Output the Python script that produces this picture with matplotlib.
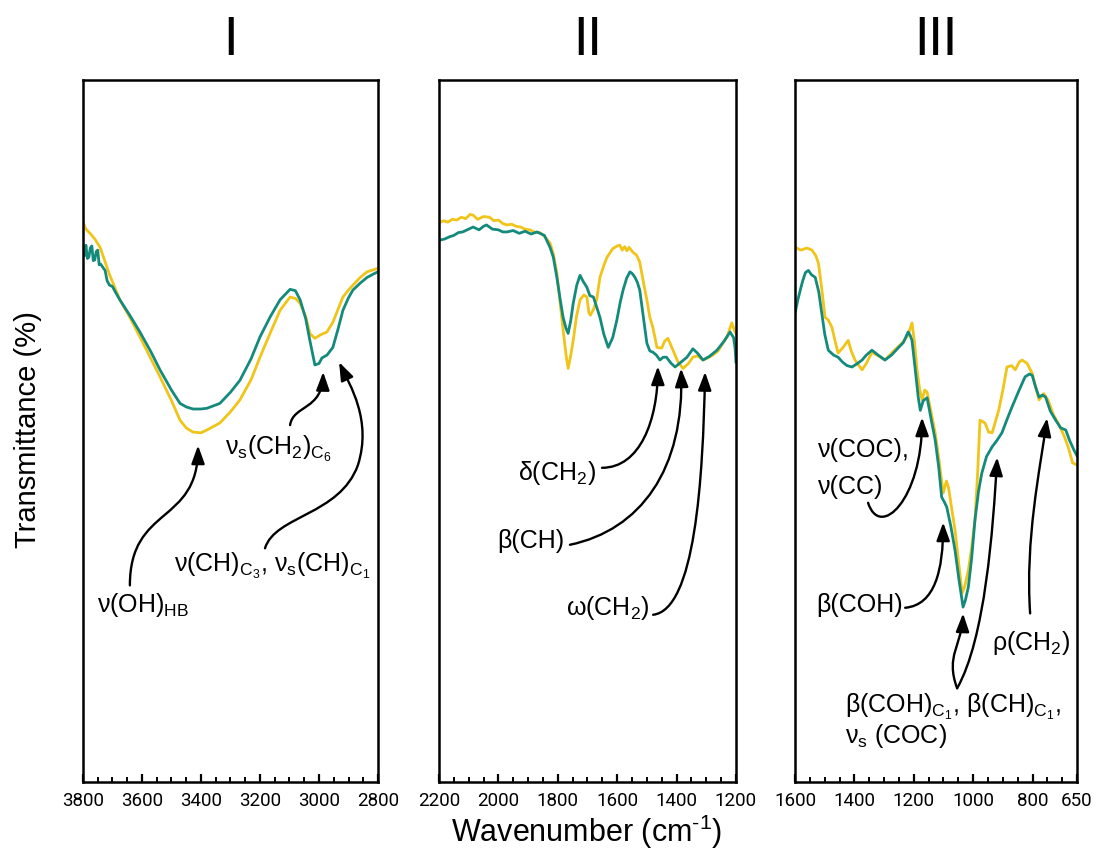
import numpy as np
import matplotlib
matplotlib.use("Agg")
import matplotlib.pyplot as plt
from matplotlib.path import Path
from matplotlib.patches import FancyArrowPatch
from matplotlib.ticker import MultipleLocator

plt.rcParams['font.family'] = ['Liberation Sans', 'DejaVu Sans']
plt.rcParams['mathtext.default'] = 'regular'

YELLOW = '#F0C419'
TEAL = '#148A7C'

# ---- region I : 3800-2800 cm-1 ----
wn1_yellow = [3800, 3790, 3776, 3760, 3742, 3710, 3675, 3640, 3607, 3570, 3539, 3500, 3471, 3450,
              3427, 3400, 3380, 3336, 3300, 3268, 3230, 3200, 3165, 3132, 3098, 3080, 3064, 3045,
              3031, 3014, 2995, 2973, 2953, 2935, 2919, 2900, 2885, 2860, 2837, 2815, 2800]
t1_yellow = [80.0, 79.0, 78.4, 77.6, 76.4, 72.5, 68.9, 66.3, 63.6, 60.5, 57.9, 54.5, 51.7, 50.6,
             50.0, 49.9, 50.3, 51.3, 52.9, 54.6, 57.5, 60.7, 64.2, 67.4, 69.3, 69.1, 68.4, 66.5,
             64.1, 63.4, 63.9, 64.3, 65.7, 67.6, 69.3, 70.3, 71.0, 72.1, 72.9, 73.2, 73.4]

wn1_teal = [3800, 3795, 3790, 3785, 3780, 3775, 3770, 3765, 3760, 3755, 3750, 3745, 3740, 3732,
            3725, 3718, 3710, 3700, 3690, 3675, 3640, 3607, 3570, 3539, 3500, 3471, 3450, 3427,
            3400, 3380, 3336, 3300, 3268, 3230, 3200, 3165, 3132, 3098, 3080, 3064, 3045, 3031,
            3014, 3000, 2990, 2973, 2953, 2935, 2919, 2900, 2885, 2860, 2837, 2815, 2800]
t1_teal = [76.0, 75.2, 76.7, 74.8, 75.0, 76.3, 76.6, 74.5, 74.6, 75.8, 76.0, 73.9, 74.0, 73.5,
           73.1, 71.6, 71.0, 70.8, 70.0, 68.9, 66.6, 64.3, 61.5, 58.9, 56.0, 54.1, 53.6, 53.3,
           53.3, 53.4, 54.1, 55.7, 57.4, 60.5, 63.6, 66.5, 68.9, 70.4, 70.2, 68.9, 66.2, 63.1,
           59.6, 59.8, 60.6, 61.0, 62.1, 64.8, 67.4, 69.2, 70.3, 71.3, 72.1, 72.6, 72.9]

# ---- region II : 2200-1200 cm-1 ----
wn2_yellow = [2200, 2185, 2170, 2155, 2140, 2125, 2110, 2095, 2085, 2070, 2050, 2030, 2015, 2000,
              1985, 1971, 1955, 1940, 1925, 1910, 1894, 1875, 1860, 1845, 1826, 1815, 1803, 1792,
              1782, 1772, 1765, 1757, 1748, 1737, 1725, 1712, 1702, 1695, 1690, 1680, 1669, 1658,
              1645, 1634, 1615, 1600, 1591, 1583, 1575, 1567, 1560, 1547, 1535, 1524, 1512, 1500,
              1490, 1480, 1466, 1450, 1440, 1429, 1420, 1412, 1395, 1378, 1360, 1345, 1330, 1311,
              1295, 1278, 1260, 1244, 1230, 1214, 1205, 1200]
t2_yellow = [79.9, 80.2, 80.0, 80.4, 80.3, 80.7, 80.5, 81.1, 81.0, 80.4, 80.8, 80.7, 80.2, 80.3,
             79.8, 79.6, 79.7, 79.4, 79.3, 79.0, 78.9, 78.5, 78.5, 78.0, 77.0, 75.5, 72.7, 68.5,
             64.6, 61.0, 59.1, 60.8, 63.1, 66.5, 68.9, 69.6, 69.3, 67.0, 66.7, 67.5, 68.9, 72.1,
             73.8, 75.0, 76.2, 76.6, 76.7, 76.0, 76.5, 75.9, 76.4, 75.7, 75.3, 74.3, 71.5, 68.9,
             66.4, 65.0, 62.1, 62.0, 63.0, 63.4, 62.5, 61.7, 60.0, 59.1, 59.8, 60.7, 60.9, 60.3,
             60.6, 61.0, 61.6, 62.7, 63.6, 65.6, 64.5, 64.1]

wn2_teal = [2200, 2180, 2165, 2150, 2135, 2120, 2100, 2085, 2065, 2050, 2040, 2020, 2000, 1985,
            1971, 1950, 1930, 1910, 1890, 1870, 1860, 1845, 1826, 1815, 1803, 1792, 1782, 1772,
            1765, 1756, 1748, 1736, 1725, 1714, 1702, 1692, 1680, 1670, 1658, 1645, 1630, 1615,
            1601, 1590, 1580, 1568, 1557, 1548, 1540, 1532, 1524, 1512, 1500, 1490, 1479, 1468,
            1456, 1445, 1434, 1420, 1405, 1385, 1365, 1345, 1330, 1311, 1290, 1264, 1240, 1220,
            1208, 1203, 1200]
t2_teal = [77.4, 77.6, 77.9, 78.1, 78.5, 78.6, 79.0, 79.3, 78.9, 79.4, 79.6, 79.0, 78.9, 78.6,
           78.6, 78.8, 78.4, 78.7, 78.3, 78.6, 78.4, 78.1, 76.4, 75.0, 72.1, 69.0, 66.4, 64.8,
           64.1, 66.0, 68.4, 71.0, 72.4, 71.5, 70.7, 69.5, 69.3, 68.0, 66.4, 64.0, 62.1, 63.5,
           66.0, 68.5, 70.3, 72.0, 72.9, 72.6, 72.1, 71.4, 70.3, 66.5, 62.7, 61.6, 61.4, 61.0,
           60.3, 60.7, 60.7, 59.9, 59.3, 60.0, 60.7, 61.9, 61.3, 60.3, 60.8, 61.7, 63.0, 64.3,
           63.5, 62.0, 60.0]

# ---- region III : 1600-650 cm-1 ----
wn3_yellow = [1600, 1580, 1560, 1543, 1530, 1521, 1510, 1499, 1488, 1476, 1465, 1455, 1440, 1421,
              1410, 1398, 1385, 1374, 1360, 1341, 1320, 1297, 1270, 1240, 1220, 1206, 1198, 1189,
              1180, 1172, 1163, 1155, 1140, 1128, 1115, 1101, 1090, 1083, 1072, 1061, 1048, 1037,
              1028, 1016, 1005, 994, 985, 977, 968, 960, 948, 936, 925, 914, 900, 886, 870, 858,
              845, 835, 818, 801, 790, 778, 762, 748, 730, 714, 695, 680, 665, 650]
t3_yellow = [76.4, 76.0, 76.3, 76.0, 75.2, 74.1, 70.5, 66.4, 66.0, 65.0, 63.0, 61.3, 62.0, 63.1,
             61.5, 60.3, 59.5, 58.9, 59.8, 61.4, 60.9, 60.3, 61.5, 62.7, 63.8, 65.6, 63.0, 58.9,
             56.0, 54.6, 56.0, 55.7, 52.5, 49.9, 46.0, 41.3, 43.0, 42.1, 39.0, 36.0, 31.0, 27.0,
             28.0, 30.3, 33.5, 37.4, 44.0, 51.7, 51.5, 51.3, 50.0, 49.9, 51.5, 53.1, 56.0, 59.3,
             59.5, 58.9, 60.0, 60.3, 59.8, 58.4, 56.5, 54.6, 55.5, 54.6, 52.5, 51.3, 49.6, 47.9,
             45.6, 45.3]

wn3_teal = [1600, 1590, 1575, 1565, 1555, 1545, 1532, 1520, 1510, 1500, 1488, 1470, 1455, 1440,
            1425, 1408, 1390, 1374, 1360, 1341, 1320, 1297, 1275, 1251, 1235, 1219, 1212, 1206,
            1195, 1185, 1178, 1168, 1155, 1140, 1128, 1116, 1106, 1097, 1089, 1075, 1061, 1048,
            1034, 1026, 1016, 1005, 994, 982, 971, 955, 936, 920, 903, 886, 869, 845, 825, 810,
            801, 790, 778, 767, 756, 740, 722, 705, 688, 675, 660, 650]
t3_teal = [67.0, 69.0, 71.5, 72.8, 73.1, 72.5, 72.1, 70.0, 67.0, 64.0, 61.7, 61.0, 60.7, 60.0,
           59.5, 59.3, 59.8, 60.3, 61.0, 61.7, 61.0, 60.3, 61.0, 62.1, 62.8, 64.3, 63.8, 63.1,
           58.9, 55.0, 53.1, 54.5, 54.9, 51.5, 48.9, 45.0, 40.7, 40.0, 39.3, 36.5, 33.1, 29.0,
           25.0, 26.0, 27.9, 32.0, 37.4, 41.5, 44.1, 46.5, 47.9, 48.8, 49.9, 51.8, 53.6, 56.0,
           57.9, 58.3, 58.1, 56.5, 55.0, 55.3, 55.0, 53.0, 51.7, 50.6, 50.3, 48.8, 47.4, 46.6]

titles = ['I', 'II', 'III']
xlims = [(3800, 2800), (2200, 1200), (1600, 650)]
major_ticks = [[3800, 3600, 3400, 3200, 3000, 2800],
               [2200, 2000, 1800, 1600, 1400, 1200],
               [1600, 1400, 1200, 1000, 800, 650]]

fig = plt.figure(figsize=(10.96, 8.59), dpi=100)
boxes = [(0.0757, 0.0896, 0.2692, 0.8172),
         (0.4005, 0.0896, 0.2710, 0.8172),
         (0.7254, 0.0896, 0.2573, 0.8172)]
axes = [fig.add_axes(b) for b in boxes]

series = [(wn1_yellow, t1_yellow, wn1_teal, t1_teal),
          (wn2_yellow, t2_yellow, wn2_teal, t2_teal),
          (wn3_yellow, t3_yellow, wn3_teal, t3_teal)]

for ax, (wy, ty, wt, tt), title, xl, mt in zip(axes, series, titles, xlims, major_ticks):
    ax.plot(wy, ty, color=YELLOW, lw=2.0)
    ax.plot(wt, tt, color=TEAL, lw=2.0)
    ax.set_xlim(*xl)
    ax.set_ylim(0, 100.3)
    ax.set_yticks([])
    ax.set_xticks(mt)
    ax.xaxis.set_minor_locator(MultipleLocator(50))
    ax.tick_params(axis='x', which='major', direction='in', length=6, width=1.6, pad=7,
                   labelsize=13.5)
    ax.tick_params(axis='x', which='minor', direction='in', length=3.5, width=1.4)
    for lbl in ax.get_xticklabels():
        lbl.set_fontfamily('Roboto')
    for sp in ax.spines.values():
        sp.set_linewidth(1.8)
    ax.text(0.5, 1.056, title, transform=ax.transAxes, ha='center', va='center',
            fontsize=38, fontfamily='Roboto')


def curved_arrow(ax, pts):
    codes = [Path.MOVETO] + [Path.CURVE4] * (len(pts) - 1)
    arr = FancyArrowPatch(path=Path(pts, codes),
                          arrowstyle='-|>,head_length=1.1,head_width=0.4',
                          mutation_scale=10, lw=1.7, color='black', clip_on=False)
    ax.add_patch(arr)


FS = 18
ax1, ax2, ax3 = axes

# region I labels
ax1.text(3597, 25.3, r'ν(OH)$_{HB}$', ha='center', va='center', fontsize=FS)
curved_arrow(ax1, [(3641, 28.1), (3641, 39.6), (3410, 36.7), (3410, 48.1)])
ax1.text(3136, 47.6, r'ν$_s$(CH$_2$)$_{C_6}$', ha='center', va='center', fontsize=FS)
curved_arrow(ax1, [(3098, 51.0), (3088, 53.9), (2988, 53.1), (2986, 58.6)])
ax1.text(3159, 30.9, r'ν(CH)$_{C_3}$, ν$_s$(CH)$_{C_1}$', ha='center', va='center', fontsize=FS)
curved_arrow(ax1, [(3183, 33.4), (3149, 38.1), (2929, 38.1), (2868, 45.3),
                   (2820, 51.7), (2895, 56.7), (2932, 60.0)])

# region II labels
ax2.text(1803, 44.1, r'δ(CH$_2$)', ha='center', va='center', fontsize=FS)
curved_arrow(ax2, [(1651, 44.9), (1523, 44.9), (1463, 51.7), (1463, 59.4)])
ax2.text(1890, 34.4, 'β(CH)', ha='center', va='center', fontsize=FS)
curved_arrow(ax2, [(1759, 33.9), (1523, 36.0), (1372, 44.6), (1385, 59.1)])
ax2.text(1631, 24.9, r'ω(CH$_2$)', ha='center', va='center', fontsize=FS)
curved_arrow(ax2, [(1479, 23.9), (1338, 24.6), (1311, 43.1), (1304, 58.6)])

# region III labels
ax3.text(1522, 47.4, 'ν(COC),', ha='left', va='center', fontsize=FS)
ax3.text(1522, 42.1, 'ν(CC)', ha='left', va='center', fontsize=FS)
curved_arrow(ax3, [(1354, 39.9), (1314, 34.6), (1172, 40.3), (1172, 52.1)])
ax3.text(1381, 25.3, 'β(COH)', ha='center', va='center', fontsize=FS)
curved_arrow(ax3, [(1229, 24.9), (1128, 25.3), (1101, 30.3), (1101, 37.1)])
ax3.text(805, 19.9, r'ρ(CH$_2$)', ha='center', va='center', fontsize=FS)
curved_arrow(ax3, [(808, 24.1), (825, 34.6), (775, 44.6), (751, 52.0)])
ax3.text(1432, 9.9, r'β(COH)$_{C_1}$, β(CH)$_{C_1}$,', ha='left', va='baseline', fontsize=FS)
ax3.text(1432, 5.6, r'ν$_s$ (COC)', ha='left', va='baseline', fontsize=FS)
curved_arrow(ax3, [(1054, 13.4), (1095, 18.1), (1037, 19.6), (1034, 24.1)])
curved_arrow(ax3, [(1054, 13.4), (960, 20.4), (933, 36.0), (919, 46.4)])

fig.text(587 / 1096, 1 - 832 / 859, 'Wavenumber (cm$^{\u2010 1}$)', ha='center', va='center',
         fontsize=22)
fig.text(28 / 1096, 1 - 430 / 859, 'Transmittance (%)', ha='center', va='center',
         rotation=90, fontsize=21)

fig.savefig('out.png', dpi=100)
